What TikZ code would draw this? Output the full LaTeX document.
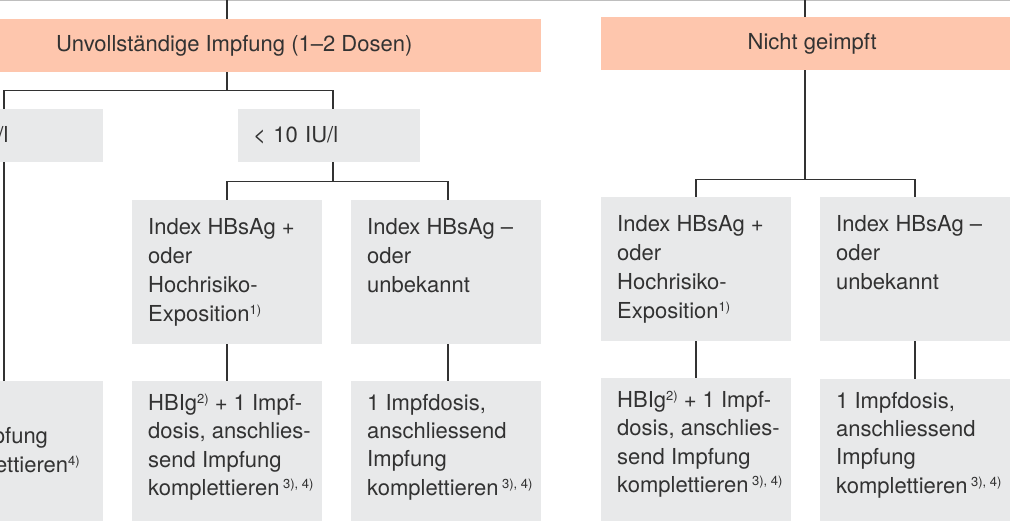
\documentclass[tikz,border=0pt]{standalone}
\usepackage{fontspec}
\setmainfont{TeX Gyre Heros}
\definecolor{headorange}{RGB}{254,198,173}
\definecolor{cellgray}{RGB}{232,233,234}
\definecolor{txtgray}{RGB}{50,50,50}
\definecolor{rulegray}{RGB}{190,190,190}
\newcommand{\fn}[1]{\raisebox{7pt}{\fontsize{13}{13}\selectfont #1}}
% top-aligned cell text, 16pt left padding
\newcommand{\celltext}[2]{\hspace*{16pt}\parbox[c][#1][t]{174pt}{\fontsize{22}{29}\selectfont\raggedright\vspace*{18pt}#2}}
\newcommand{\dosetext}[2]{\hspace*{16pt}\parbox[c][#1][t]{174pt}{\fontsize{22}{28.3}\selectfont\raggedright\vspace*{13pt}#2}}
\begin{document}
\begin{tikzpicture}[x=1pt,y=-1pt,
    every node/.style={font=\fontsize{22}{29.5}\selectfont, text=txtgray}]
    \tikzstyle{wire}=[line width=1.1pt, draw=txtgray]
    \tikzstyle{head}=[fill=headorange, anchor=north west, minimum height=53pt, inner sep=0pt]
    \tikzstyle{tag}=[fill=cellgray, anchor=north west, minimum height=53pt, inner xsep=15pt, inner ysep=0pt, text width=152pt, align=left]
    \tikzstyle{cell}=[fill=cellgray, anchor=north west, inner sep=0pt]

    \useasboundingbox (0,0) rectangle (1010,521);
    \clip (0,0) rectangle (1010,521);
    \draw[line width=1.5pt, rulegray] (0,0.5) -- (1010,0.5);

    % columns of the tree
    \coordinate (colL) at (4,0);
    \coordinate (colA) at (227,0);
    \coordinate (colB) at (333,0);
    \coordinate (colB2) at (448,0);
    \coordinate (colC) at (696,0);
    \coordinate (colM) at (805,0);
    \coordinate (colD) at (915,0);

    % headers
    \node[head, minimum width=614pt] (partial) at (-73,19) {Unvollständige Impfung (1–2 Dosen)};
    \node[head, minimum width=422pt] (none) at (601,17) {Nicht geimpft};

    % titer
    \node[tag, text width=168pt] (highL) at (-95,109) {$\geq$ 10 IU/l};
    \node[tag] (lowP) at (238,109) {< 10 IU/l};

    % index
    \node[cell] (posP) at (132,200) {\celltext{144pt}{Index HBsAg +\\oder\\Hochrisiko-\\Exposition\fn{1)}}};
    \node[cell] (negP) at (351,200) {\celltext{144pt}{Index HBsAg –\\oder\\unbekannt}};
    \node[cell] (posN) at (601,197) {\celltext{144pt}{Index HBsAg +\\oder\\Hochrisiko-\\Exposition\fn{1)}}};
    \node[cell] (negN) at (820,197) {\celltext{144pt}{Index HBsAg –\\oder\\unbekannt}};

    % measures
    \node[cell, inner xsep=16pt, text width=158pt, align=center, minimum height=142pt] (doseL) at (-87,381) {Impfung\\komplettieren\fn{4)}};
    \node[cell] (doseP1) at (132,381) {\dosetext{142pt}{HBIg\fn{2)} + 1 Impf-\\dosis, anschlies-\\send Impfung\\komplettieren\,\fn{3), 4)}}};
    \node[cell] (doseP2) at (351,381) {\dosetext{142pt}{1 Impfdosis,\\anschliessend\\Impfung\\komplettieren\,\fn{3), 4)}}};
    \node[cell] (doseN1) at (601,378) {\dosetext{145pt}{HBIg\fn{2)} + 1 Impf-\\dosis, anschlies-\\send Impfung\\komplettieren\,\fn{3), 4)}}};
    \node[cell] (doseN2) at (820,379) {\dosetext{144pt}{1 Impfdosis,\\anschliessend\\Impfung\\komplettieren\,\fn{3), 4)}}};

    % connectors
    \draw[wire] (colA) -- (colA |- partial.north);
    \draw[wire] (colM) -- (colM |- none.north);
    \draw[wire] (colA |- partial.south) -- ++(0,18) coordinate (busP);
    \draw[wire] (colL |- highL.north) |- (busP) -| (colB |- lowP.north);
    \draw[wire] (colL |- highL.south) -- (colL |- doseL.north);
    \draw[wire] (colB |- lowP.south) -- ++(0,19) coordinate (busQ);
    \draw[wire] (colA |- posP.north) |- (busQ) -| (colB2 |- negP.north);
    \draw[wire] (colA |- posP.south) -- (colA |- doseP1.north);
    \draw[wire] (colB2 |- negP.south) -- (colB2 |- doseP2.north);
    \draw[wire] (colM |- none.south) -- ++(0,109) coordinate (busN);
    \draw[wire] (colC |- posN.north) |- (busN) -| (colD |- negN.north);
    \draw[wire] (colC |- posN.south) -- (colC |- doseN1.north);
    \draw[wire] (colD |- negN.south) -- (colD |- doseN2.north);
\end{tikzpicture}
\end{document}
